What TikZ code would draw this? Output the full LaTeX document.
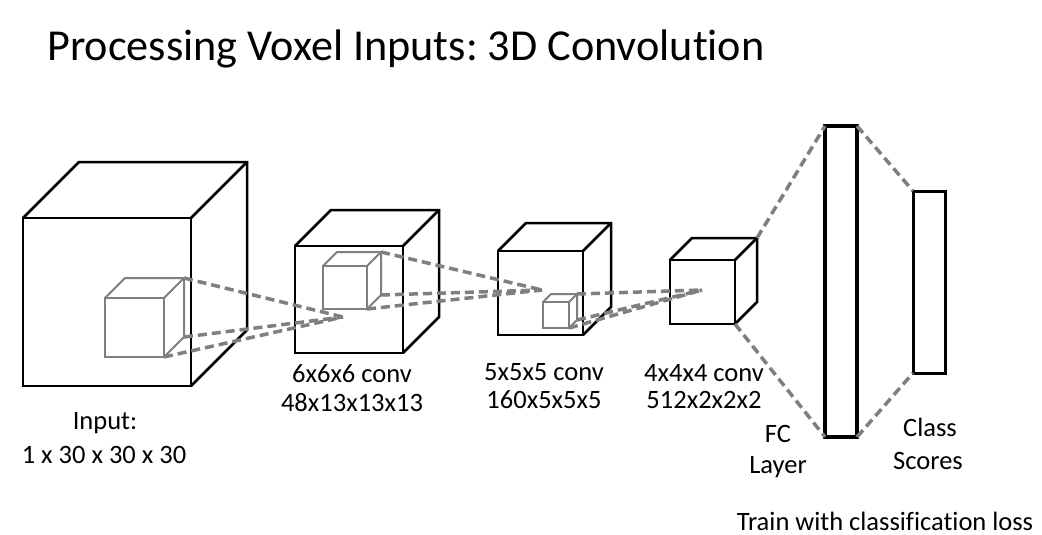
\documentclass[tikz,border=0pt]{standalone}
\usepackage{fontspec}
\setmainfont[Ligatures=NoCommon]{Carlito}
\frenchspacing
\newcommand{\drawcube}[7]{%
 \coordinate (#1-ftl) at (#2,#3);
 \coordinate (#1-ftr) at (#4,#3);
 \coordinate (#1-fbr) at (#4,#5);
 \coordinate (#1-fbl) at (#2,#5);
 \coordinate (#1-btl) at (#2+#6,#3-#6);
 \coordinate (#1-btr) at (#4+#6,#3-#6);
 \coordinate (#1-bbr) at (#4+#6,#5-#6);
 \draw[#7] (#1-fbl) rectangle (#1-ftr);
 \draw[#7] (#1-ftl) -- (#1-btl) -- (#1-btr) -- (#1-bbr) -- (#1-fbr);
 \draw[#7] (#1-ftr) -- (#1-btr);
}
\definecolor{dgray}{RGB}{127,127,127}
\tikzset{
 bigcube/.style={black, line width=2.5pt},
 smallcube/.style={dgray, line width=2pt},
 link/.style={dgray, line width=3.5pt, dash pattern=on 9pt off 5pt},
 layerbox/.style={draw=black, fill=white, outer sep=0pt, inner sep=0pt},
 lbl/.style={anchor=base, inner sep=0pt, font=\fontsize{26.5}{30}\selectfont, align=center},
}
\begin{document}
\begin{tikzpicture}[x=1pt,y=-1pt]
\useasboundingbox (0,0) rectangle (1042,535);
\fill[white] (0,0) rectangle (1042,535);
\node[anchor=base west, inner sep=0pt, font=\fontsize{44.2}{50}\selectfont] (title) at (47,61) {Processing Voxel Inputs: 3D Convolution};

\drawcube{c1}{23}{218}{191}{386}{56}{bigcube}
\drawcube{g1}{105}{298}{164}{357}{20}{smallcube}
\drawcube{c2}{295}{246}{403}{353}{36}{bigcube}
\drawcube{g2}{323}{266}{367}{309}{14}{smallcube}
\drawcube{c3}{498}{251}{583}{335}{28}{bigcube}
\drawcube{g3}{543}{302}{569}{328}{8}{smallcube}
\drawcube{c4}{670}{260}{735}{324}{22}{bigcube}

\coordinate (a1) at (343,317);
\coordinate (a2) at (542,290);
\coordinate (a3) at (702,290);

\draw[link] (g1-btr) -- (a1);
\draw[link] (g1-bbr) -- (a1);
\draw[link] (g1-fbr) -- (a1);
\draw[link] (g2-btr) -- (a2);
\draw[link] (g2-bbr) -- (a2);
\draw[link] (g2-fbr) -- (a2);
\draw[link] (g3-btr) -- (a3);
\draw[link] (g3-bbr) -- (a3);
\draw[link] (g3-fbr) -- (a3);

\node[layerbox, line width=3.5pt, minimum width=32pt, minimum height=311pt] (fc) at (841,281.5) {};
\node[layerbox, line width=3pt, minimum width=32pt, minimum height=182pt] (cs) at (929,282) {};

\draw[link] (c4-btr) -- (fc.north west);
\draw[link] (c4-fbr) -- (fc.south west);
\draw[link] (fc.north east) -- (cs.north west);
\draw[link] (fc.south east) -- (cs.south west);

\node[lbl] (in1) at (105,429) {Input:};
\node[lbl] (in2) at (104,463) {1 x 30 x 30 x 30};
\node[lbl] (l2a) at (352,382) {6x6x6 conv};
\node[lbl] (l2b) at (352,411) {48x13x13x13};
\node[lbl] (l3a) at (544,380) {5x5x5 conv};
\node[lbl] (l3b) at (544,408) {160x5x5x5};
\node[lbl] (l4a) at (704,381) {4x4x4 conv};
\node[lbl] (l4b) at (704,408) {512x2x2x2};
\node[lbl] (fc1) at (778,442) {FC};
\node[lbl] (fc2) at (778,473) {Layer};
\node[lbl] (cs1) at (930,436) {Class};
\node[lbl] (cs2) at (928,469) {Scores};
\node[lbl] (train) at (885,530) {Train with classification loss};
\end{tikzpicture}
\end{document}
